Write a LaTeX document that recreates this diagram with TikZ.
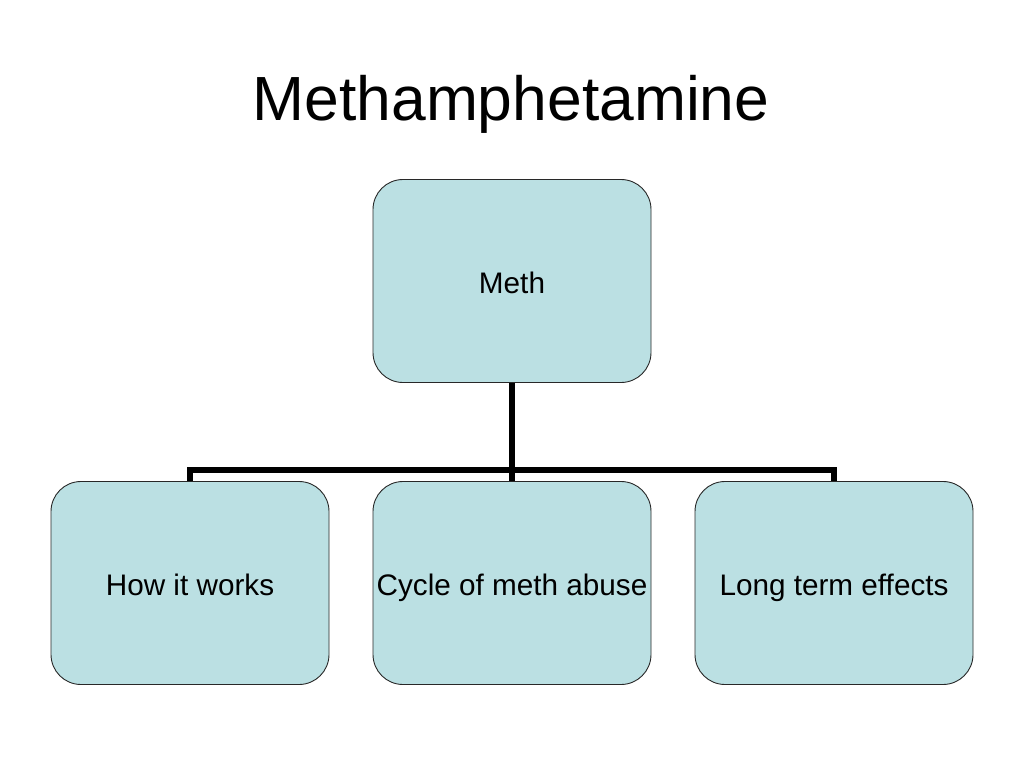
\documentclass[tikz,border=0pt]{standalone}
\usepackage{fontspec}
\setmainfont{Liberation Sans}
\definecolor{boxfill}{RGB}{187,224,227}
\definecolor{boxline}{RGB}{40,40,40}
\begin{document}
\begin{tikzpicture}[x=1pt,y=-1pt,
  topic/.style={draw=boxline, line width=0.9pt, fill=boxfill, rounded corners=30pt,
    minimum width=278pt, minimum height=203pt, inner sep=0pt,
    text height=27pt, text depth=3pt,
    font=\fontsize{29.7pt}{34pt}\selectfont},
  conn/.style={line width=6pt, black, line join=miter}]
\useasboundingbox (0,0) rectangle (1024,768);
\fill[white] (0,0) rectangle (1024,768);
\node[anchor=base, inner sep=0pt, font=\fontsize{62.4pt}{70pt}\selectfont] (title) at (511,120) {Methamphetamine};
\node[topic] (meth) at (512,281) {Meth};
\node[topic] (how) at (190,583) {How it works};
\node[topic] (cycle) at (512,583) {Cycle of meth abuse};
\node[topic] (long) at (834,583) {Long term effects};
\coordinate (bar) at (512,470);
\draw[conn] (meth.south) -- (cycle.north);
\draw[conn] (how.north) |- (bar) -| (long.north);
\end{tikzpicture}
\end{document}
